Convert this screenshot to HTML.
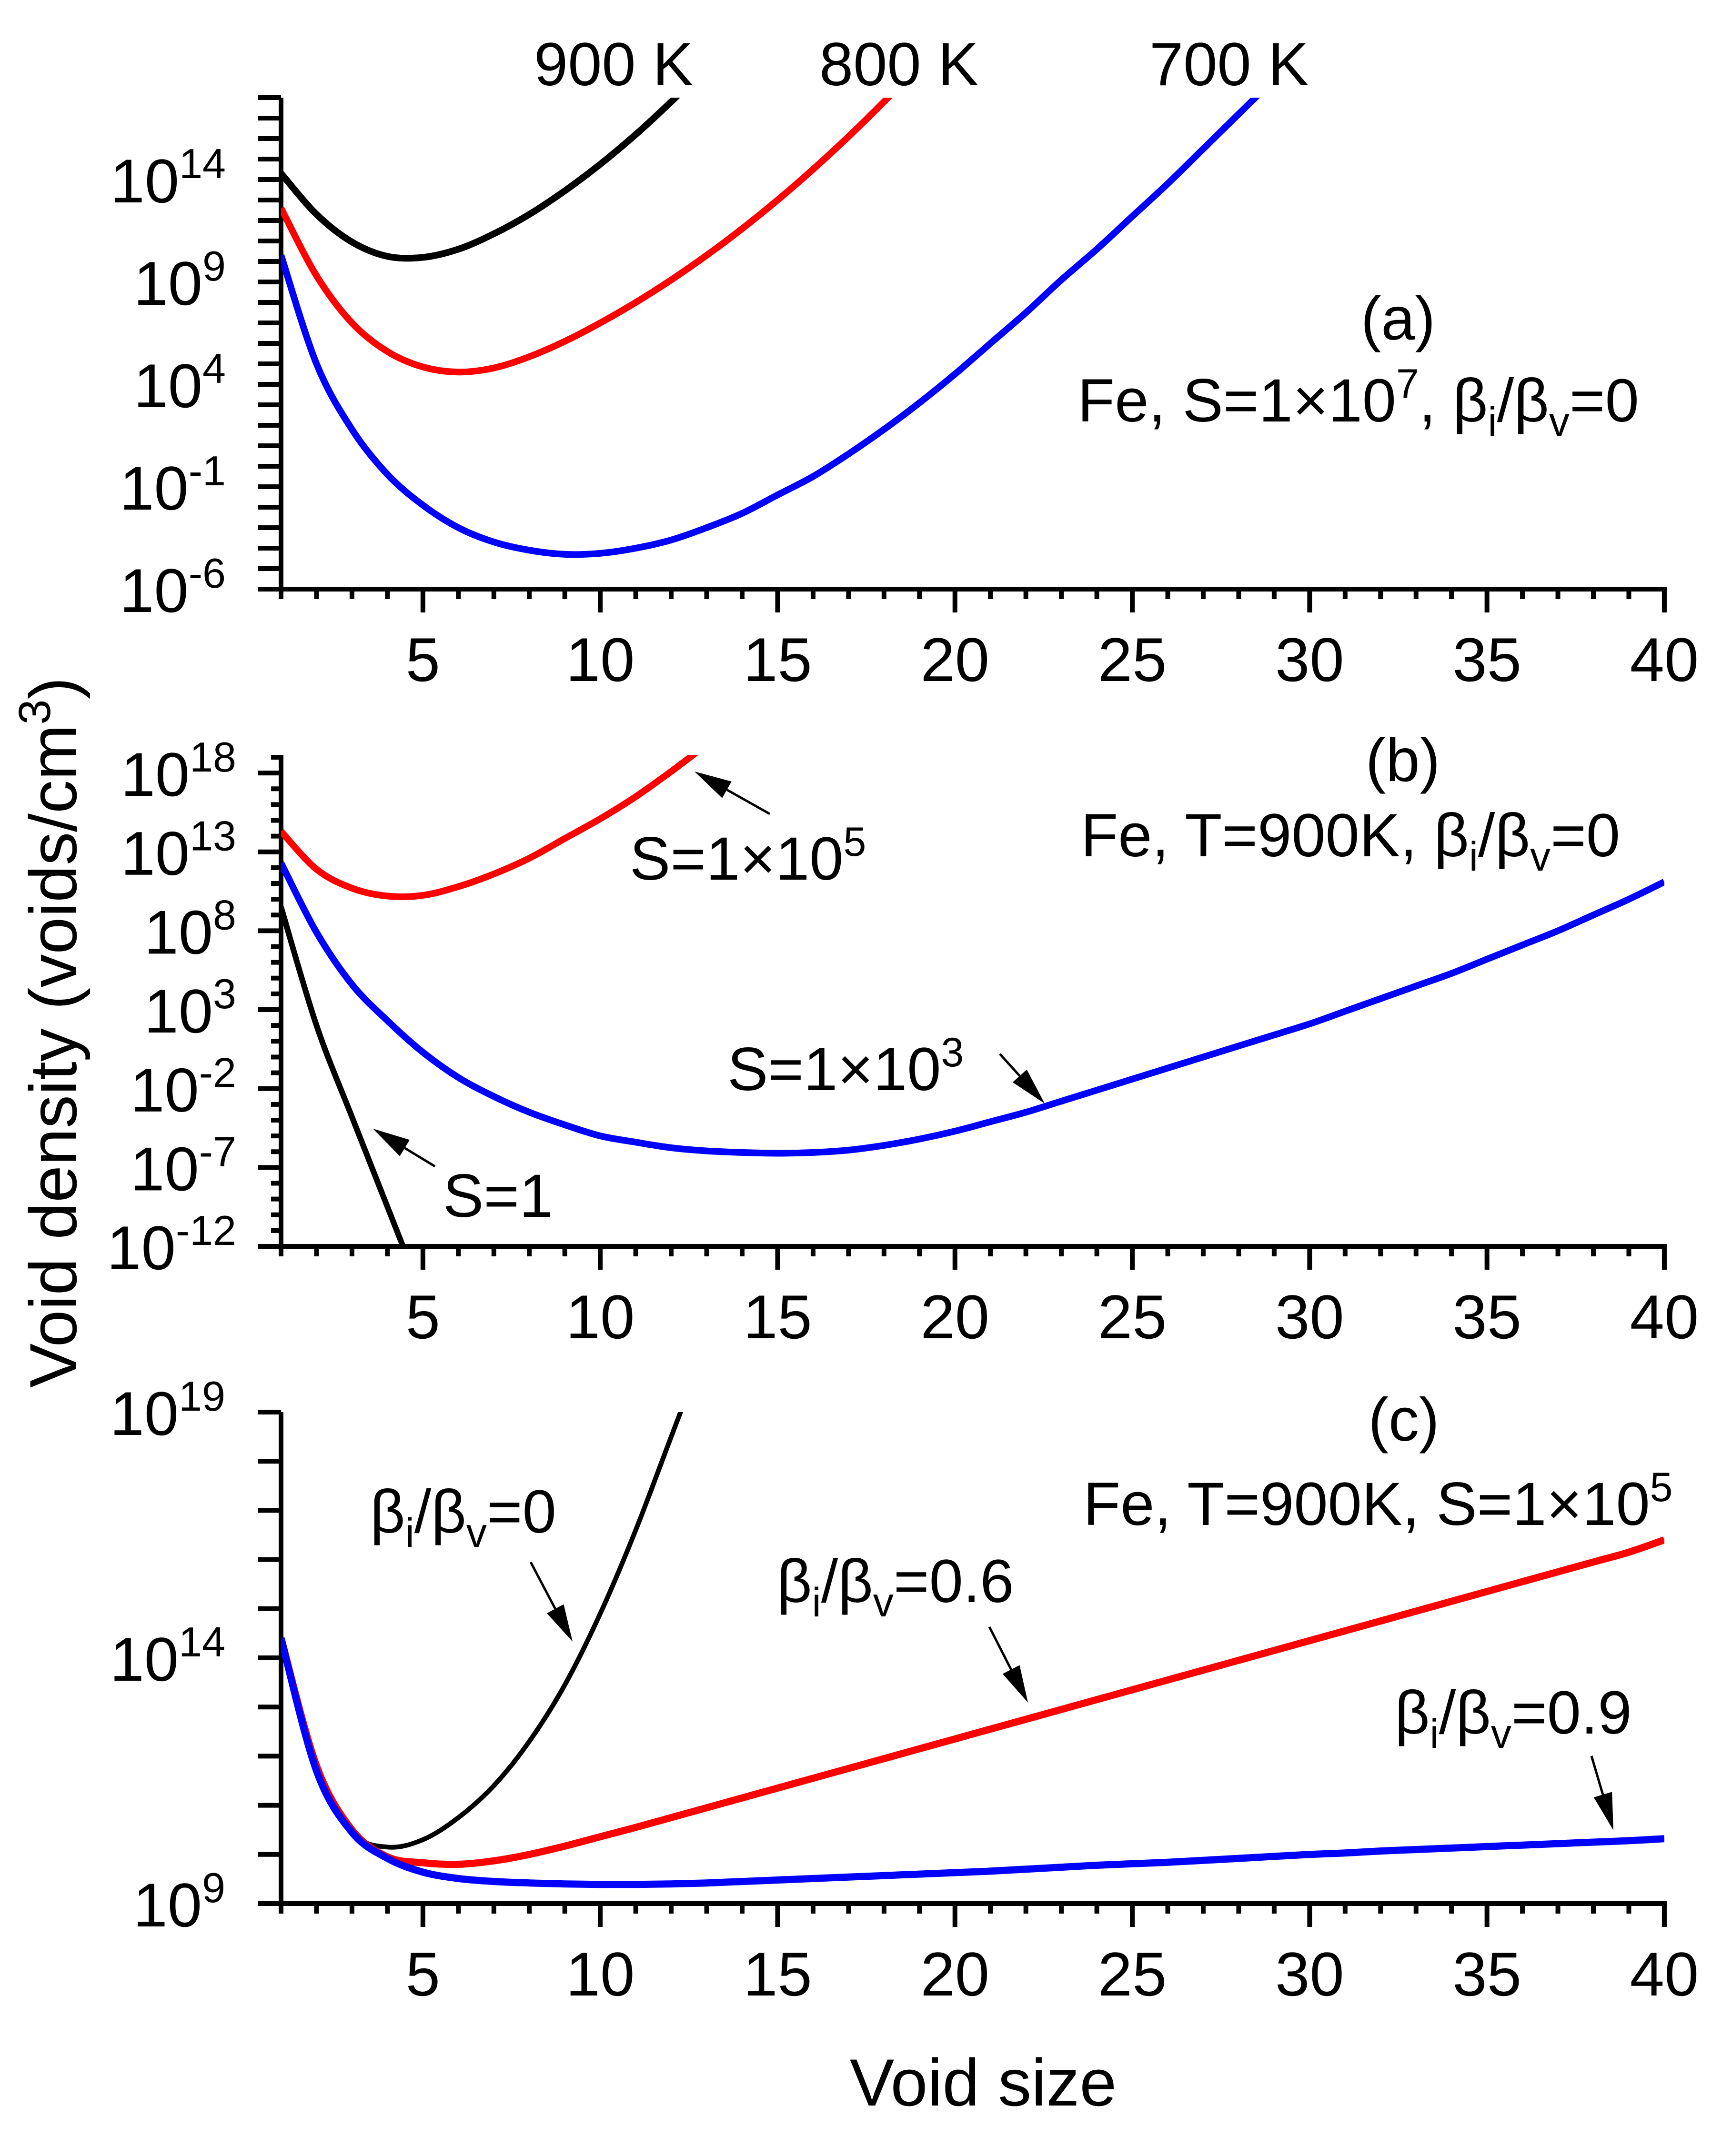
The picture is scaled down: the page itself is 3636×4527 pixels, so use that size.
<!DOCTYPE html>
<html><head><meta charset="utf-8"><style>
html,body{margin:0;padding:0;background:#fff;}
svg{display:block;font-family:"Liberation Sans",Arial,sans-serif;}
</style></head><body>
<svg id="chart" width="3636" height="4527" viewBox="0 0 3636 4527" xmlns="http://www.w3.org/2000/svg">
<rect width="3636" height="4527" fill="#fff"/>
<defs>
<clipPath id="clipA"><rect x="590" y="205" width="2904" height="1032"/></clipPath>
<clipPath id="clipB"><rect x="590" y="1585" width="2904" height="1032"/></clipPath>
<clipPath id="clipC"><rect x="590" y="2965" width="2904" height="1032"/></clipPath>
</defs>
<g id="layer"></g>
</svg>
<script>
// ---- Panel (a) data: log10 of void density ----
const xA900 = [1,2,3,4,5,6,7,8,9,10,11,12,13];
const yA900 = [14.3,12.3,10.95,10.25,10.2,10.6,11.35,12.3,13.45,14.75,16.2,17.8,19.5];
const xA800 = [1,2,3,4,5,6,7,8,9,10,11,12,13,14,15,16,17,18,19];
const yA800 = [12.6,9.3,7.0,5.6,4.85,4.6,4.8,5.35,6.1,7.0,8.0,9.1,10.3,11.6,13.0,14.5,16.1,17.8,19.6];
const xA700 = [1,2,3,4,5,6,7,8,9,10,11,12,13,14,15,16,17,18,19,20,21,22,23,24,25,26,27,28,29];
const yA700 = [10.3,5.0,1.8,-0.4,-1.9,-3.0,-3.7,-4.1,-4.3,-4.25,-4.0,-3.6,-3.0,-2.3,-1.4,-0.5,0.6,1.8,3.1,4.5,6.0,7.5,9.1,10.6,12.2,13.8,15.5,17.2,18.9];
// ---- Panel (b) data ----
const xB1 = [1,2,3,4,5];
const yB1 = [9.5,2.0,-3.8,-9.5,-15.2];
const xB3 = [1,2,3,4,5,6,7,8,9,10,11,12,13,14,15,16,17,18,19,20,21,22,23,24,25,26,27,28,29,30,31,32,33,34,35,36,37,38,39,40];
const yB3 = [12.3,7.9,4.6,2.3,0.3,-1.3,-2.5,-3.5,-4.3,-5.0,-5.4,-5.75,-5.95,-6.05,-6.1,-6.05,-5.9,-5.6,-5.2,-4.7,-4.1,-3.5,-2.8,-2.1,-1.4,-0.7,0.0,0.7,1.4,2.1,2.9,3.7,4.5,5.3,6.2,7.1,8.0,9.0,10.0,11.1];
const xB5 = [1,2,3,4,5,6,7,8,9,10,11,12,13];
const yB5 = [14.3,11.9,10.7,10.2,10.25,10.8,11.6,12.6,13.85,15.1,16.5,18.1,19.8];
// ---- Panel (c) data ----
const xC0 = [1,2,3,4,5,6,7,8,9,10,11,12,13];
const yC0 = [14.4,11.8,10.45,10.15,10.3,10.75,11.4,12.3,13.45,14.9,16.6,18.5,20.4];
const xC6 = [1,2,3,4,5,6,7,8,9,10,11,12,13,14,15,16,17,18,19,20,21,22,23,24,25,26,27,28,29,30,31,32,33,34,35,36,37,38,39,40];
const yC6 = [14.4,11.8,10.5,9.95,9.83,9.8,9.87,10.0,10.17,10.36,10.55,10.75,10.95,11.15,11.35,11.55,11.75,11.95,12.15,12.35,12.55,12.75,12.95,13.15,13.35,13.55,13.75,13.95,14.15,14.35,14.55,14.75,14.95,15.15,15.35,15.55,15.75,15.95,16.15,16.4];
const xC9 = [1,2,3,4,5,6,7,8,9,10,11,12,13,14,15,16,17,18,19,20,21,22,23,24,25,26,27,28,29,30,31,32,33,34,35,36,37,38,39,40];
const yC9 = [14.4,11.7,10.45,9.92,9.64,9.51,9.45,9.42,9.4,9.39,9.39,9.4,9.42,9.45,9.48,9.51,9.54,9.57,9.6,9.63,9.66,9.7,9.74,9.78,9.81,9.84,9.88,9.92,9.96,10.0,10.03,10.07,10.1,10.13,10.16,10.19,10.22,10.25,10.28,10.32];
// ---- axis tick values ----
const xTickMajor = [5,10,15,20,25,30,35,40];
const yLabelsA = [14,9,4,-1,-6];
const yLabelsB = [18,13,8,3,-2,-7,-12];
const yLabelsC = [19,14,9];

const NS = "http://www.w3.org/2000/svg";
const layer = document.getElementById('layer');
function mk(tag, attrs, parent){
  const e = document.createElementNS(NS, tag);
  for (const k in attrs) e.setAttribute(k, attrs[k]);
  (parent||layer).appendChild(e);
  return e;
}
const X0 = 590, XPX = 74.46;
function sx(v){ return X0 + (v-1)*XPX; }

const panels = [
  {id:'a', bottom:1237, top:205, ymin:-6, ymax:18, labels:yLabelsA, minorFrom:-6, minorTo:18, allLong:true, labelRight:474, clip:'clipA'},
  {id:'b', bottom:2617, top:1585, ymin:-12, ymax:19.15, labels:yLabelsB, minorFrom:-12, minorTo:19, allLong:false, labelRight:496, clip:'clipB'},
  {id:'c', bottom:3997, top:2965, ymin:9, ymax:19, labels:yLabelsC, minorFrom:9, minorTo:19, allLong:true, labelRight:473, clip:'clipC'}
];
panels.forEach(p=>{ p.sy = v => p.bottom - (v - p.ymin)*(p.bottom-p.top)/(p.ymax-p.ymin); });

function drawAxes(p){
  const g = mk('g', {});
  
  
  for (let d = p.minorFrom; d <= p.minorTo; d++){
    const y = p.sy(d);
    const isLab = p.labels.indexOf(d) >= 0;
    const len = (p.allLong || isLab) ? 48 : 21;
    const t = mk('line', {x1:X0-len, y1:y, x2:X0, y2:y, stroke:'#000','stroke-width':10}, g);
    
    
  }
  for (let v = 1; v <= 40; v++){
    const isMaj = xTickMajor.indexOf(v) >= 0;
    const t = mk('line', {x1:sx(v), y1:p.bottom, x2:sx(v), y2:p.bottom + (isMaj?49:21), stroke:'#000','stroke-width':10}, g);
    
    
  }
  const ya = mk('line', {x1:X0, y1:p.top, x2:X0, y2:p.bottom+5, stroke:'#000','stroke-width':10}, g);
  
  
  const xa = mk('line', {x1:X0-5, y1:p.bottom, x2:sx(40)+5, y2:p.bottom, stroke:'#000','stroke-width':10}, g);
  
  
  xTickMajor.forEach(v=>{
    const t = mk('text', {x:sx(v), y:p.bottom+193, 'text-anchor':'middle', 'font-size':130}, g);
    t.textContent = v;
    
    
  });
  p.labels.forEach(v=>{
    const y = p.sy(v);
    const t = mk('text', {x:p.labelRight, y:y+48, 'text-anchor':'end', 'font-size':130}, g);
    
    
    const a = mk('tspan', {}, t); a.textContent = '10';
    const b = mk('tspan', {dy:-51, 'font-size':88}, t); b.textContent = String(v);
  });
}
function drawSeries(p, xs, ys, color, width, name){
  const P = xs.map((x,i)=>[sx(x), p.sy(ys[i])]);
  let d = 'M' + P[0][0].toFixed(1) + ',' + P[0][1].toFixed(1);
  for (let i = 0; i < P.length-1; i++){
    const p0 = P[Math.max(i-1,0)], p1 = P[i], p2 = P[i+1], p3 = P[Math.min(i+2,P.length-1)];
    const c1x = p1[0] + (p2[0]-p0[0])/6, c1y = p1[1] + (p2[1]-p0[1])/6;
    const c2x = p2[0] - (p3[0]-p1[0])/6, c2y = p2[1] - (p3[1]-p1[1])/6;
    d += ' C' + c1x.toFixed(1)+','+c1y.toFixed(1)+' '+c2x.toFixed(1)+','+c2y.toFixed(1)+' '+p2[0].toFixed(1)+','+p2[1].toFixed(1);
  }
  const pl = mk('path', {d:d, fill:'none', stroke:color, 'stroke-width':width, 'stroke-linejoin':'round', 'clip-path':'url(#'+p.clip+')'});
  
  
}
panels.forEach(drawAxes);
drawSeries(panels[0], xA900, yA900, '#000', 14, 'series-900k');
drawSeries(panels[0], xA800, yA800, '#ff0000', 14, 'series-800k');
drawSeries(panels[0], xA700, yA700, '#0000ff', 14, 'series-700k');
drawSeries(panels[1], xB1, yB1, '#000', 12, 'series-s-1');
drawSeries(panels[1], xB3, yB3, '#0000ff', 14, 'series-s-1e3');
drawSeries(panels[1], xB5, yB5, '#ff0000', 14, 'series-s-1e5');
drawSeries(panels[2], xC0, yC0, '#000', 10, 'series-beta-0');
drawSeries(panels[2], xC6, yC6, '#ff0000', 15, 'series-beta-0.6');
drawSeries(panels[2], xC9, yC9, '#0000ff', 15, 'series-beta-0.9');

function arrow(x1,y1,x2,y2,name){
  const g = mk('g', {});
  
  
  const dx=x2-x1, dy=y2-y1, L=Math.hypot(dx,dy), ux=dx/L, uy=dy/L;
  const hl=78, hw=20;
  const bx=x2-ux*hl, by=y2-uy*hl;
  mk('line',{x1:x1,y1:y1,x2:bx,y2:by,stroke:'#000','stroke-width':5},g);
  mk('polygon',{points:`${x2},${y2} ${bx-uy*hw},${by+ux*hw} ${bx+uy*hw},${by-ux*hw}`,fill:'#000'},g);
}
arrow(1616,1709,1458,1620,'arrow-s-1e5');
arrow(2099,2213,2193,2317,'arrow-s-1e3');
arrow(913,2449,783,2370,'arrow-s-1');
arrow(1114,3280,1202,3447,'arrow-beta-0');
arrow(2077,3416,2158,3575,'arrow-beta-0.6');
arrow(3341,3687,3387,3843,'arrow-beta-0.9');
</script>
<script>
(function(){
const svg = document.getElementById('chart');
svg.insertAdjacentHTML('beforeend', `
<g font-size="128">
<text x="1121" y="179">900 K</text>
<text x="1720" y="179">800 K</text>
<text x="2413" y="179">700 K</text>
<text x="2935" y="713" text-anchor="middle">(a)</text>
<text x="2262" y="885">Fe, S=1×10<tspan dy="-50" font-size="86">7</tspan><tspan dy="50">, β</tspan><tspan dy="30" font-size="86">i</tspan><tspan dy="-30">/β</tspan><tspan dy="30" font-size="86">v</tspan><tspan dy="-30">=0</tspan></text>
<text x="2945" y="1640" text-anchor="middle">(b)</text>
<text x="2269" y="1798">Fe, T=900K, β<tspan dy="30" font-size="86">i</tspan><tspan dy="-30">/β</tspan><tspan dy="30" font-size="86">v</tspan><tspan dy="-30">=0</tspan></text>
<text x="1322" y="1847">S=1×10<tspan dy="-50" font-size="86">5</tspan></text>
<text x="1527" y="2289">S=1×10<tspan dy="-50" font-size="86">3</tspan></text>
<text x="930" y="2555">S=1</text>
<text x="2947" y="3025" text-anchor="middle">(c)</text>
<text x="2274" y="3202">Fe, T=900K, S=1×10<tspan dy="-50" font-size="86">5</tspan></text>
<text x="777" y="3218">β<tspan dy="30" font-size="86">i</tspan><tspan dy="-30">/β</tspan><tspan dy="30" font-size="86">v</tspan><tspan dy="-30">=0</tspan></text>
<text x="1631" y="3364">β<tspan dy="30" font-size="86">i</tspan><tspan dy="-30">/β</tspan><tspan dy="30" font-size="86">v</tspan><tspan dy="-30">=0.6</tspan></text>
<text x="2928" y="3640">β<tspan dy="30" font-size="86">i</tspan><tspan dy="-30">/β</tspan><tspan dy="30" font-size="86">v</tspan><tspan dy="-30">=0.9</tspan></text>
</g>
<text x="2064" y="4421" text-anchor="middle" font-size="140">Void size</text>
<text transform="translate(160,2168) rotate(-90)" text-anchor="middle" font-size="140">Void density (voids/cm<tspan dy="-55" font-size="95">3</tspan><tspan dy="55">)</tspan></text>
`);
})();
</script>
</body></html>
